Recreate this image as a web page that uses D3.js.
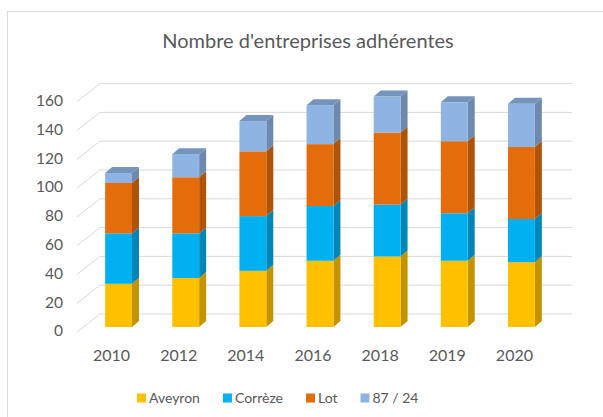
<!DOCTYPE html>
<html>
<head>
<meta charset="utf-8">
<script src="https://cdn.jsdelivr.net/npm/d3@7"></script>
<style>
  body { margin: 0; background: #fff; }
  svg { display: block; font-family: Lato, "Open Sans", sans-serif; }
</style>
</head>
<body>
<div id="chart-container"></div>
<script>
const years = ["2010", "2012", "2014", "2016", "2018", "2019", "2020"];
const seriesNames = ["Aveyron", "Corrèze", "Lot", "87 / 24"];
const aveyron = [30, 34, 39, 46, 49, 46, 45];
const correze = [35, 31, 38, 38, 36, 33, 30];
const lot = [35, 39, 45, 43, 50, 50, 50];
const hautevienne = [7, 16, 21, 27, 25, 27, 30];
const yTicks = [0, 20, 40, 60, 80, 100, 120, 140, 160];
const colors = ["#FFC000", "#00B0F0", "#E46C0A", "#8EB4E3"];

const container = document.getElementById("chart-container");

function chart() {
    const width = 603;
    const height = 417;
    const depthX = 7, depthY = -6;   // bar 3d depth
    const wallX = 23, wallY = -18;   // floor depth (left diagonals)

    const x = d3.scaleBand()
        .domain(years)
        .range([85, 555])
        .paddingInner(0.6)
        .paddingOuter(0.3);

    // front plane of the bars
    const y = d3.scaleLinear()
        .domain([0, 160])
        .range([327, 96.6]);
    const yBack = v => y(v) - 13;

    const svg = d3.select(container).append("svg")
        .attr("width", width)
        .attr("height", height);

    // frame
    svg.append("rect")
        .attr("x", 7.5).attr("y", 11.5)
        .attr("width", width).attr("height", height)
        .attr("fill", "none")
        .attr("stroke", "#d9d9d9");

    svg.append("text")
        .attr("x", 308)
        .attr("y", 48)
        .attr("text-anchor", "middle")
        .attr("font-size", 20)
        .attr("fill", "#595959")
        .text("Nombre d'entreprises adhérentes");

    // back wall gridlines + floor diagonals
    const grid = svg.append("g")
        .attr("stroke", "#d9d9d9")
        .attr("stroke-width", 1)
        .attr("fill", "none");
    grid.selectAll("line.h")
        .data(yTicks)
        .join("line")
        .attr("x1", 100).attr("x2", 572)
        .attr("y1", d => yBack(d)).attr("y2", d => yBack(d));
    grid.selectAll("line.d")
        .data(yTicks)
        .join("line")
        .attr("x1", 100 - wallX).attr("x2", 100)
        .attr("y1", d => yBack(d) - wallY).attr("y2", d => yBack(d));

    // y labels
    svg.append("g")
        .selectAll("text")
        .data(yTicks)
        .join("text")
        .attr("x", 63)
        .attr("y", d => y(d) + 4)
        .attr("dy", "0.35em")
        .attr("text-anchor", "end")
        .attr("font-size", 15.5)
        .attr("fill", "#595959")
        .text(d => d);

    // x labels
    svg.append("g")
        .selectAll("text")
        .data(years)
        .join("text")
        .attr("x", d => x(d) + x.bandwidth() / 2 - 7)
        .attr("y", 355)
        .attr("dy", "0.35em")
        .attr("text-anchor", "middle")
        .attr("font-size", 16)
        .attr("fill", "#595959")
        .text(d => d);

    // stacked 3d bars
    const table = years.map((yr, i) => ({
        year: yr,
        "Aveyron": aveyron[i],
        "Corrèze": correze[i],
        "Lot": lot[i],
        "87 / 24": hautevienne[i]
    }));
    const stacked = d3.stack().keys(seriesNames)(table);
    const bw = x.bandwidth();

    stacked.forEach((layer, k) => {
        const c = d3.color(colors[k]);
        const g = svg.append("g");
        layer.forEach((d, i) => {
            const x0 = x(years[i]);
            const y0 = y(d[0]), y1 = y(d[1]);
            // side face
            g.append("polygon")
                .attr("points", [
                    [x0 + bw, y1], [x0 + bw + depthX, y1 + depthY],
                    [x0 + bw + depthX, y0 + depthY], [x0 + bw, y0]
                ].join(" "))
                .attr("fill", c.darker(0.75));
            // front face
            g.append("rect")
                .attr("x", x0)
                .attr("y", y1)
                .attr("width", bw)
                .attr("height", y0 - y1)
                .attr("fill", c);
            // top cap on last series
            if (k === seriesNames.length - 1) {
                g.append("polygon")
                    .attr("points", [
                        [x0, y1], [x0 + depthX, y1 + depthY],
                        [x0 + bw + depthX, y1 + depthY], [x0 + bw, y1]
                    ].join(" "))
                    .attr("fill", c.darker(0.55));
            }
        });
    });

    // legend
    const legend = svg.append("g").attr("transform", "translate(137,398)");
    let lx = 0;
    seriesNames.forEach((name, k) => {
        legend.append("rect")
            .attr("x", lx).attr("y", -4.5)
            .attr("width", 9).attr("height", 9)
            .attr("fill", colors[k]);
        const t = legend.append("text")
            .attr("x", lx + 12)
            .attr("dy", "0.35em")
            .attr("font-size", 14)
            .attr("fill", "#595959")
            .text(name);
        lx += 12 + t.node().getComputedTextLength() + 23;
    });

    return svg.node();
}

chart();
</script>
</body>
</html>
